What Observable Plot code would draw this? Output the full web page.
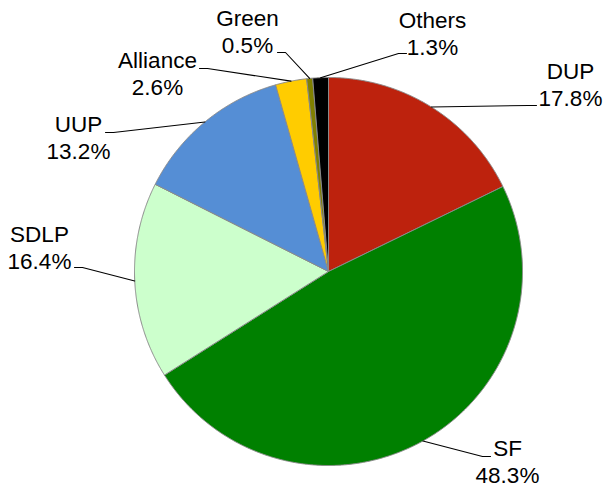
<!DOCTYPE html>
<html>
<head>
<meta charset="utf-8">
<script src="https://cdn.jsdelivr.net/npm/d3@7"></script>
<script src="https://cdn.jsdelivr.net/npm/@observablehq/plot@0.6"></script>
<style>
  html, body { margin: 0; padding: 0; background: #fff; }
  #chart svg { display: block; }
</style>
</head>
<body>
<div id="chart"></div>
<script>
// ---- data ----
const parties = ["DUP", "SF", "SDLP", "UUP", "Alliance", "Green", "Others"];
const shares = [17.8, 48.3, 16.4, 13.2, 2.6, 0.5, 1.3];
const colors = ["#BD220D", "#008000", "#CCFFCC", "#558ED5", "#FFCC00", "#808000", "#000000"];

// ---- layout (pixels) ----
const W = 605, H = 489;
const cx = 328, cy = 271, R = 194;
const labelAnchor = [[570, 105], [507, 482], [39, 268], [78, 158], [157, 94], [247, 52], [432, 54]];
const leaderEnd = [[536, 105], [490, 456], [74, 267], [105, 132], [199, 68], [277, 52], [406, 53]];

const rows = parties.map((p, i) => ({party: p, share: shares[i], color: colors[i], i}));
const arcs = d3.pie().sort(null).value(d => d.share).startAngle(0).endAngle(2 * Math.PI)(rows);

const px = a => cx + R * Math.sin(a);
const py = a => cy - R * Math.cos(a);

// slice polygons
const slicePts = [];
arcs.forEach(a => {
  const p = a.data.party;
  slicePts.push({party: p, x: cx, y: cy});
  const n = Math.max(2, Math.ceil((a.endAngle - a.startAngle) / 0.005));
  for (let k = 0; k <= n; k++) {
    const t = a.startAngle + (a.endAngle - a.startAngle) * k / n;
    slicePts.push({party: p, x: px(t), y: py(t)});
  }
  slicePts.push({party: p, x: cx, y: cy});
});

// leader lines
const leaderPts = [];
arcs.forEach((a, i) => {
  const p = a.data.party;
  const mid = (a.startAngle + a.endAngle) / 2;
  const [ex, ey] = leaderEnd[i];
  const ax = px(mid), ay = py(mid);
  const elbow = ex > ax ? ex - 8 : ex + 8;
  leaderPts.push({party: p, x: ax, y: ay});
  leaderPts.push({party: p, x: elbow, y: ey});
  leaderPts.push({party: p, x: ex, y: ey});
});

const labels = arcs.map((a, i) => ({
  party: a.data.party,
  x: labelAnchor[i][0],
  y: labelAnchor[i][1],
  text: `${a.data.party}\n${a.data.share.toFixed(1)}%`
}));

const chart = Plot.plot({
  width: W,
  height: H,
  margin: 0,
  x: {domain: [0, W], range: [0, W], axis: null},
  y: {domain: [0, H], range: [0, H], axis: null},
  color: {domain: parties, range: colors},
  style: {fontFamily: "'Liberation Sans', Arial, sans-serif", background: "#fff"},
  marks: [
    Plot.line(slicePts, {x: "x", y: "y", z: "party", fill: "party", stroke: "#8a8a8a", strokeWidth: 1, strokeLinejoin: "round"}),
    Plot.line(leaderPts, {x: "x", y: "y", z: "party", stroke: "#000", strokeWidth: 1.1}),
    Plot.text(labels, {x: "x", y: "y", text: "text", textAnchor: "middle", lineAnchor: "bottom", lineHeight: 1.16, fontSize: 22.5, fill: "#000"})
  ]
});

document.getElementById("chart").appendChild(chart);
</script>
</body>
</html>
